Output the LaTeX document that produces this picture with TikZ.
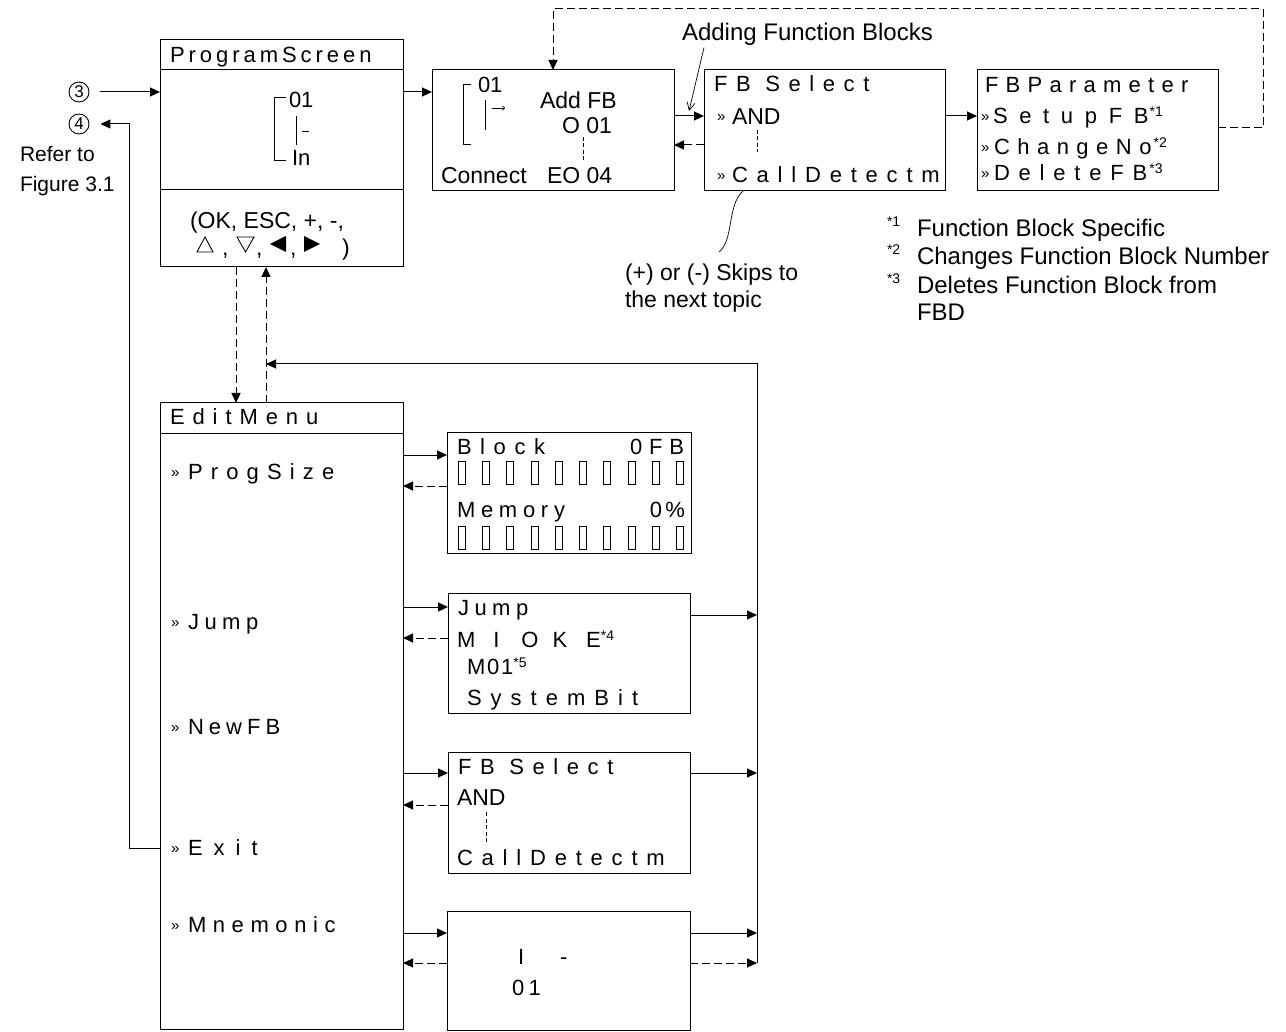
\documentclass[tikz,border=0pt]{standalone}
\usepackage{fontspec}
\setmainfont{Liberation Sans}
\usetikzlibrary{arrows.meta}
\newcommand\lcd[2]{{\addfontfeature{LetterSpace=#1}#2}}
\newcommand\sups[1]{\raisebox{7pt}{\normalfont\fontsize{14}{14}\selectfont #1}}
\begin{document}
\begin{tikzpicture}[x=1pt,y=-1pt,line width=1pt,
  box/.style={draw,line width=1pt,inner sep=0pt,outer sep=0pt,anchor=north west},
  lt/.style={inner sep=0pt,outer sep=0pt,anchor=west,font=\fontsize{22}{24}\selectfont,text height=15.7pt,text depth=0pt},
  rt/.style={inner sep=0pt,outer sep=0pt,anchor=west,font=\fontsize{21}{24}\selectfont,text height=15pt,text depth=0pt},
  nt/.style={inner sep=0pt,outer sep=0pt,anchor=west,font=\fontsize{23}{26}\selectfont,text height=16.5pt,text depth=0pt},
  bt/.style={inner sep=0pt,outer sep=0pt,anchor=west,font=\fontsize{24}{27}\selectfont,text height=17.2pt,text depth=0pt},
  gg/.style={inner sep=0pt,outer sep=0pt,anchor=west,font=\fontsize{15}{15}\selectfont},
  ft/.style={inner sep=0pt,outer sep=0pt,anchor=west,font=\fontsize{14}{14}\selectfont},
  arr/.style={-{Triangle[length=10pt,width=9pt]}},
  dsh/.style={dash pattern=on 8pt off 4pt},
  sdash/.style={line width=0.8pt,dash pattern=on 4pt off 2.5pt},
  cnum/.style={circle,draw,line width=0.9pt,minimum size=20pt,inner sep=0pt,font=\fontsize{17}{17}\selectfont}]
\useasboundingbox (0,0) rectangle (1286,1032);

% ---------------- Program screen
\node[box,minimum width=243pt,minimum height=227pt] (ps) at (160,40) {};
\draw (ps.west |- 0,70) -- (ps.east |- 0,70);
\draw (ps.west |- 0,190) -- (ps.east |- 0,190);
\node[lt] (pst) at (170,55) {\lcd{18}{ProgramScreen}};
\draw (286,98) -- (274,98) -- (274,161) -- (286,161);
\node[lt] (ps01) at (289,100) {01};
\draw (296,116) -- (296,145);
\draw[line width=0.7pt] (302,131) -- (309,131);
\node[lt] (psin) at (292,158) {In};
\node[nt,anchor=center] (keys1) at (267,220) {(OK, ESC, +, -,};
% key symbols row
\draw[line width=0.9pt] (197,252) -- (213,252) -- (205,237) -- cycle;
\node[nt] (cm1) at (222,247) {,};
\draw[line width=0.9pt] (237,237) -- (254,237) -- (245.5,252) -- cycle;
\node[nt] (cm2) at (256,247) {,};
\fill (286,236) -- (286,252) -- (270,244) -- cycle;
\node[nt] (cm3) at (290,247) {,};
\fill (304,236) -- (304,252) -- (320,244) -- cycle;
\node[nt] (cpar) at (342,247) {)};

% circles and reference
\node[cnum] (c3) at (79,92) {3};
\node[cnum] (c4) at (79,124) {4};
\node[rt] (ref1) at (20,154) {Refer to};
\node[rt] (ref2) at (20,184) {Figure 3.1};

% ---------------- Connect box
\node[box,minimum width=242pt,minimum height=121pt] (cn) at (432,70) {};
\draw (471,85) -- (463,85) -- (463,145) -- (471,145);
\node[lt] (cn01) at (478,85) {01};
\draw (485,100) -- (485,130);
\draw[-{To[length=3pt,width=5pt]},line width=0.6pt] (492,108) -- (505,108);
\node[nt] (addfb) at (540,100) {Add FB};
\node[nt] (o01) at (562,125) {O 01};
\draw[sdash] (583,137) -- (583,160);
\node[nt] (cnc) at (441,175) {Connect};
\node[nt] (eo) at (547,175) {EO 04};

% ---------------- FB Select (top)
\node[box,minimum width=241pt,minimum height=121pt] (fbs) at (704,70) {};
\node[lt] (fbst) at (714,84) {\lcd{39}{FB Select}};
\node[gg] (g1) at (717,118) {»};
\node[nt] (and1) at (732,116) {AND};
\draw[sdash] (757,130) -- (757,152);
\node[gg] (g2) at (717,177) {»};
\node[lt] (cd1) at (732,175) {\lcd{40}{CallDetectm}};

% ---------------- FB Parameter
\node[box,minimum width=241pt,minimum height=121pt] (fbp) at (977,70) {};
\node[lt] (fbpt) at (985,85) {\lcd{33}{FBParameter}};
\node[gg] (g3) at (981,118) {»};
\node[lt] (su) at (993,116) {\lcd{53}{SetupFB}\kern1pt\sups{*1}};
\node[gg] (g4) at (981,149) {»};
\node[lt] (chg) at (994,147) {\lcd{34}{ChangeNo}\kern2pt\sups{*2}};
\node[gg] (g5) at (981,175) {»};
\node[lt] (del) at (994,173) {\lcd{40}{DeleteFB}\kern2pt\sups{*3}};

% ---------------- labels top
\node[bt] (afb) at (682,32) {Adding Function Blocks};
\coordinate (afbtip) at (689,111);
\draw[-{Straight Barb[length=8pt,width=8pt]},line width=0.7pt] ([xshift=22pt,yshift=-7pt]afb.south west) -- (afbtip);
\coordinate (skend) at (719,252);
\draw[line width=0.7pt] (fbs.south -| 743,0) .. controls (727,205) and (734,240) .. (skend);
\node[nt] (sk1) at (625,272) {(+) or (-) Skips to};
\node[nt] (sk2) at (625,299) {the next topic};

\node[ft] (f1s) at (887,222) {*1};
\node[bt] (f1) at (917,228) {Function Block Specific};
\node[ft] (f2s) at (887,250) {*2};
\node[bt] (f2) at (917,256) {Changes Function Block Number};
\node[ft] (f3s) at (887,279) {*3};
\node[bt] (f3) at (917,285) {Deletes Function Block from};
\node[bt] (f4) at (917,312) {FBD};

% ---------------- Edit menu
\node[box,minimum width=243pt,minimum height=626pt] (em) at (160,403) {};
\draw (em.west |- 0,433) -- (em.east |- 0,433);
\node[lt] (emt) at (170,417) {\lcd{36}{EditMenu}};
\node[gg] (e1g) at (171,474) {»};
\node[lt] (e1) at (188,472) {\lcd{37}{ProgSize}};
\node[gg] (e2g) at (171,624) {»};
\node[lt] (e2) at (188,622) {\lcd{25}{Jump}};
\node[gg] (e3g) at (171,729) {»};
\node[lt] (e3) at (188,727) {\lcd{23}{NewFB}};
\node[gg] (e4g) at (171,850) {»};
\node[lt] (e4) at (188,848) {\lcd{50}{Exit}};
\node[gg] (e5g) at (171,927) {»};
\node[lt] (e5) at (188,925) {\lcd{30}{Mnemonic}};

% ---------------- Block box
\node[box,minimum width=244pt,minimum height=121pt] (blk) at (447,432) {};
\node[lt] (blkt) at (457,447) {\lcd{39}{Block}};
\node[lt,anchor=east] (blkfb) at (684,447) {\lcd{31}{0FB}};
\node[lt] (mem) at (457,510) {\lcd{26}{Memory}};
\node[lt,anchor=east] (memp) at (685,510) {\lcd{15}{0\%}};
\foreach \i in {0,...,9} {
  \draw[line width=0.8pt] (458+24.3*\i,461) rectangle ++(7,23);
  \draw[line width=0.8pt] (458+24.3*\i,526) rectangle ++(7,23);
}

% ---------------- Jump box
\node[box,minimum width=242pt,minimum height=120pt] (jmp) at (448,593) {};
\node[lt] (jt) at (458,608) {\lcd{25}{Jump}};
\node[lt] (miok) at (457,640) {M\hspace{18pt}I\hspace{22pt}O\hspace{14pt}K\hspace{19pt}E\sups{*4}};
\node[lt] (m01) at (467,667) {\lcd{8}{M01}\sups{*5}};
\node[lt] (sysb) at (467,698) {\lcd{41}{SystemBit}};

% ---------------- FB Select (lower)
\node[box,minimum width=242pt,minimum height=121pt] (fbs2) at (448,752) {};
\node[lt] (fbs2t) at (458,767) {\lcd{39}{FB Select}};
\node[nt] (and2) at (457,797) {AND};
\draw[sdash] (486,812) -- (486,842);
\node[lt] (cd2) at (457,858) {\lcd{40}{CallDetectm}};

% ---------------- Mnemonic box
\node[box,minimum width=243pt,minimum height=119pt] (mn) at (447,911) {};
\node[lt] (mni) at (518,957) {I\hspace{36pt}-};
\node[lt] (mn01) at (512,988) {\lcd{20}{01}};

% ---------------- connectors
\draw[arr] (c3.east) ++(11pt,0) -- (ps.west |- c3);
\draw[arr] (em.west |- 0,848) -- (129,848) -- (129,124) -- ([xshift=11pt]c4.east);
\draw[arr] (ps.east |- 0,92) -- (cn.west |- 0,92);
\draw[arr] (cn.east |- 0,116) -- (fbs.west |- 0,116);
\draw[arr,dsh] (fbs.west |- 0,145) -- (cn.east |- 0,145);
\draw[arr] (fbs.east |- 0,116) -- (fbp.west |- 0,116);
\draw[arr,dsh] (fbp.east |- 0,128) -- (1263,128) -- (1263,9) -- (553,9) -- (cn.north -| 553,0);

\draw[arr,dsh] (ps.south -| 236,0) -- (em.north -| 236,0);
\draw[arr,dsh] (em.north -| 266,0) -- (ps.south -| 266,0);

\coordinate (bt) at (757,364);
\coordinate (bb) at (757,963);
\draw[arr] (bb) -- (bt) -- (266,364);

\draw[arr] (em.east |- 0,455) -- (blk.west |- 0,455);
\draw[arr,dsh] (blk.west |- 0,486) -- (em.east |- 0,486);
\draw[arr] (em.east |- 0,607) -- (jmp.west |- 0,607);
\draw[arr,dsh] (jmp.west |- 0,638) -- (em.east |- 0,638);
\draw[arr] (jmp.east |- 0,615) -- (bt |- 0,615);
\draw[arr] (em.east |- 0,773) -- (fbs2.west |- 0,773);
\draw[arr,dsh] (fbs2.west |- 0,805) -- (em.east |- 0,805);
\draw[arr] (fbs2.east |- 0,773) -- (bt |- 0,773);
\draw[arr] (em.east |- 0,933) -- (mn.west |- 0,933);
\draw[arr,dsh] (mn.west |- 0,963) -- (em.east |- 0,963);
\draw[arr] (mn.east |- 0,933) -- (bt |- 0,933);
\draw[arr,dsh] (mn.east |- 0,963) -- (bb);
\end{tikzpicture}
\end{document}
